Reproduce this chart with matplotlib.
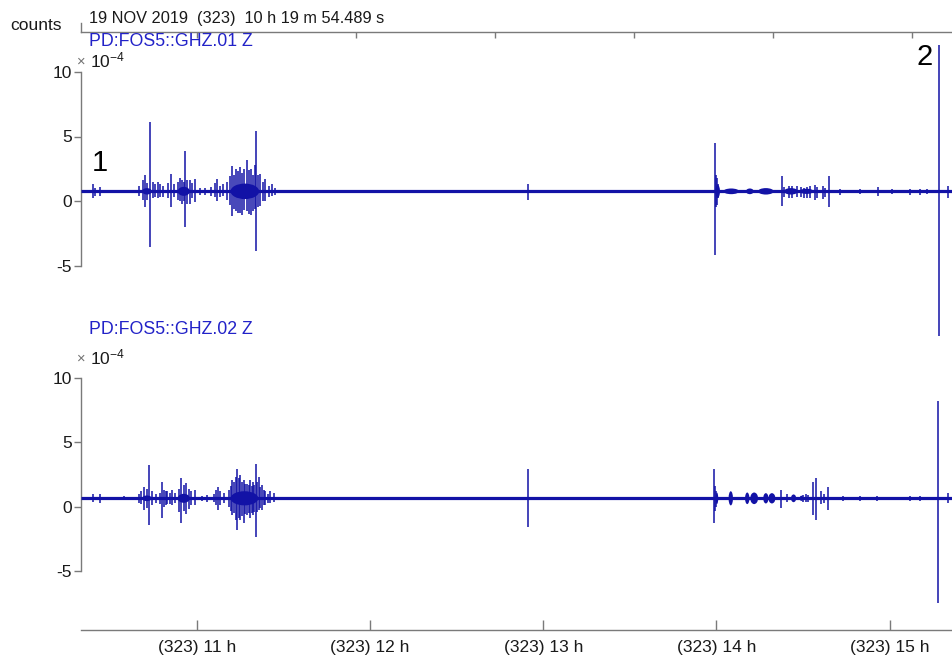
import matplotlib
matplotlib.use("Agg")
import matplotlib.pyplot as plt
from matplotlib.patches import Ellipse

plt.rcParams['font.family'] = ['Liberation Sans', 'DejaVu Sans']
plt.rcParams['axes.unicode_minus'] = False
plt.rcParams['mathtext.fontset'] = 'custom'
plt.rcParams['mathtext.rm'] = 'Liberation Sans'
plt.rcParams['mathtext.it'] = 'Liberation Sans'

# ---- time axis (decimal hours, day 323) ----
START_LABEL = "19 NOV 2019  (323)  10 h 19 m 54.489 s"
T_START = 10 + 19 / 60 + 54.489 / 3600
T_END = 15.3595
HOUR_TICKS = [11, 12, 13, 14, 15]
HOUR_LABELS = ["(323) 11 h", "(323) 12 h", "(323) 13 h", "(323) 14 h", "(323) 15 h"]
HEADER_TICKS = [11.003, 11.920, 12.722, 13.524, 14.327, 15.129]
Y_TICKS = [-5, 0, 5, 10]
Y_LABELS = ["-5", "0", "5", "10"]

# ---- channel 01 (amplitudes in units of 1e-4 counts) ----
CH01_NAME = "PD:FOS5::GHZ.01 Z"
CH01_BASE = 0.75
CH01_T = [10.403, 10.415, 10.443, 10.665, 10.690, 10.703, 10.715, 10.728, 10.745, 10.760,
          10.775, 10.790, 10.805, 10.835, 10.851, 10.870, 10.890, 10.905, 10.915, 10.925,
          10.934, 10.945, 10.962, 10.975, 10.991, 11.020, 11.050, 11.080, 11.105, 11.117,
          11.135, 11.153, 11.175, 11.190, 11.203, 11.215, 11.228, 11.240, 11.251, 11.262,
          11.275, 11.290, 11.300, 11.313, 11.325, 11.335, 11.343, 11.355, 11.366, 11.380,
          11.395, 11.415, 11.434, 11.450,
          12.913,
          13.992, 13.997, 14.002, 14.010, 14.377, 14.390, 14.420, 14.434, 14.463, 14.490,
          14.505, 14.525, 14.540, 14.569, 14.582, 14.613, 14.627, 14.648, 14.713, 14.829,
          14.934, 15.011, 15.117, 15.175, 15.213, 15.283, 15.338]
CH01_HI = [1.3, 1.0, 1.1, 1.2, 1.6, 2.0, 1.4, 6.1, 1.5, 1.3,
           1.5, 1.3, 1.2, 1.4, 2.1, 1.3, 1.5, 1.8, 1.6, 1.5,
           3.9, 1.6, 1.65, 1.4, 1.7, 1.0, 1.0, 1.1, 1.4, 1.7,
           1.2, 1.3, 1.5, 1.9, 2.7, 2.0, 2.5, 2.3, 2.6, 2.2,
           2.5, 3.2, 2.4, 2.5, 2.0, 2.8, 5.4, 2.0, 2.1, 1.5,
           1.7, 1.2, 1.3, 1.0,
           1.3,
           4.5, 2.0, 1.8, 1.3, 1.9, 1.1, 1.2, 1.15, 1.2, 1.1,
           1.0, 1.1, 1.15, 1.25, 1.1, 1.2, 1.0, 1.95, 0.95, 0.9,
           1.05, 0.9, 0.95, 0.95, 0.9, 12.1, 1.2]
CH01_LO = [0.2, 0.4, 0.4, 0.4, 0.1, -0.5, 0.1, -3.6, 0.2, 0.3,
           0.2, 0.3, 0.3, 0.2, -0.5, 0.3, 0.1, 0.0, -0.2, 0.0,
           -2.0, -0.2, -0.2, 0.2, -0.1, 0.5, 0.5, 0.4, 0.3, 0.0,
           0.3, 0.4, 0.1, -0.3, -1.2, -0.6, -0.8, -0.9, -0.9, -1.1,
           -0.7, -0.8, -1.0, -1.1, -0.8, -0.6, -3.9, -0.5, -0.4, 0.0,
           0.0, 0.3, 0.4, 0.5,
           0.1,
           -4.15, -0.5, -0.3, 0.2, -0.4, 0.3, 0.2, 0.25, 0.3, 0.3,
           0.25, 0.2, 0.2, 0.1, 0.2, 0.15, 0.3, -0.45, 0.5, 0.55,
           0.35, 0.55, 0.5, 0.5, 0.55, -10.5, 0.2]
# dense wave packets: start, end, half-amplitude about the baseline
CH01_BLOB_T0 = [10.685, 10.890, 11.195, 13.994, 14.040, 14.170, 14.240, 14.390, 14.480]
CH01_BLOB_T1 = [10.740, 10.960, 11.360, 14.020, 14.130, 14.215, 14.330, 14.470, 14.560]
CH01_BLOB_AMP = [0.25, 0.35, 0.6, 0.5, 0.22, 0.22, 0.25, 0.25, 0.2]

# ---- channel 02 ----
CH02_NAME = "PD:FOS5::GHZ.02 Z"
CH02_BASE = 0.65
CH02_T = [10.401, 10.439, 10.578, 10.664, 10.680, 10.693, 10.713, 10.726, 10.741, 10.766,
          10.785, 10.799, 10.812, 10.825, 10.831, 10.845, 10.857, 10.875, 10.895, 10.911,
          10.924, 10.939, 10.953, 10.965, 10.991, 11.030, 11.059, 11.097, 11.110, 11.120,
          11.136, 11.160, 11.184, 11.195, 11.203, 11.215, 11.225, 11.235, 11.243, 11.251,
          11.260, 11.270, 11.280, 11.290, 11.300, 11.309, 11.317, 11.324, 11.333, 11.342,
          11.350, 11.357, 11.366, 11.376, 11.386, 11.395, 11.410, 11.424, 11.443,
          12.913,
          13.986, 13.993, 13.998, 14.371, 14.406, 14.501, 14.515, 14.530, 14.556, 14.573,
          14.602, 14.621, 14.642, 14.732, 14.829, 14.929, 15.117, 15.175, 15.280, 15.335]
CH02_HI = [0.95, 1.0, 0.8, 1.0, 1.2, 1.55, 1.4, 3.2, 1.2, 1.0,
           1.1, 1.9, 1.3, 1.2, 1.2, 1.1, 1.3, 1.1, 1.35, 2.2,
           1.7, 1.85, 1.4, 1.2, 1.3, 0.85, 0.9, 1.0, 1.3, 1.55,
           1.2, 1.1, 1.3, 1.6, 2.1, 1.9, 2.3, 2.9, 2.2, 2.45,
           1.9, 2.1, 1.8, 1.8, 1.7, 2.05, 1.6, 1.95, 1.7, 3.35,
           1.9, 2.3, 1.5, 1.7, 1.3, 1.2, 1.0, 1.2, 1.05,
           2.9,
           2.9, 1.6, 1.2, 1.3, 0.95, 0.9, 0.95, 0.9, 1.95, 2.2,
           1.2, 1.0, 1.55, 0.8, 0.8, 0.85, 0.8, 0.8, 8.25, 1.1]
CH02_LO = [0.4, 0.3, 0.5, 0.3, 0.2, -0.25, -0.1, -1.4, 0.1, 0.3,
           0.2, -0.9, 0.0, 0.1, 0.2, 0.2, 0.1, 0.3, -0.4, -1.25,
           -0.3, -0.6, -0.2, 0.1, 0.1, 0.45, 0.4, 0.35, 0.1, -0.25,
           0.1, 0.3, 0.0, -0.3, -0.65, -0.5, -1.0, -1.8, -0.9, -1.05,
           -0.7, -1.25, -0.6, -0.65, -0.5, -0.9, -0.5, -0.65, -0.4, -2.35,
           -0.4, -0.25, -0.1, -0.25, 0.1, 0.15, 0.3, 0.25, 0.35,
           -1.55,
           -1.3, -0.3, 0.0, -0.1, 0.35, 0.35, 0.35, 0.4, -0.65, -1.0,
           0.2, 0.3, -0.25, 0.45, 0.45, 0.45, 0.45, 0.45, -7.5, 0.3]
CH02_BLOB_T0 = [10.685, 10.890, 11.195, 13.995, 14.070, 14.165, 14.195, 14.270, 14.300, 14.430, 14.480]
CH02_BLOB_T1 = [10.740, 10.960, 11.355, 14.010, 14.095, 14.190, 14.240, 14.300, 14.340, 14.460, 14.500]
CH02_BLOB_AMP = [0.22, 0.35, 0.55, 0.45, 0.55, 0.45, 0.45, 0.4, 0.4, 0.3, 0.2]

TRACE = '#1212a6'
LABEL_BLUE = '#2222c8'
AXIS_GREY = '#7a7a7a'
TEXT = '#1a1a1a'
FS = 12.5

W, H = 952, 657
fig = plt.figure(figsize=(W / 100, H / 100), dpi=100)
fig.patch.set_facecolor('white')


def fx(px):
    return px / W


def fy(px):
    return 1 - px / H


LEFT, RIGHT = 81, 952


def trace_axes(top_px, bot_px):
    ax = fig.add_axes([fx(LEFT), fy(bot_px), fx(RIGHT - LEFT), (bot_px - top_px) / H])
    ax.set_xlim(T_START, T_END)
    ax.set_ylim(-5, 10)
    for s in ('top', 'right'):
        ax.spines[s].set_visible(False)
    ax.spines['left'].set_color(AXIS_GREY)
    ax.spines['left'].set_linewidth(1.0)
    ax.set_yticks(Y_TICKS)
    ax.set_yticklabels(Y_LABELS)
    ax.tick_params(axis='y', direction='out', length=5, width=1.0, color=AXIS_GREY,
                   labelsize=FS, labelcolor=TEXT, pad=1.5)
    ax.patch.set_visible(False)
    return ax


def draw_trace(ax, base, t, hi, lo, b0, b1, bamp):
    ax.hlines(base, T_START, T_END, color=TRACE, lw=2.3, zorder=3)
    for a, b, amp in zip(b0, b1, bamp):
        ax.add_patch(Ellipse(((a + b) / 2, base), b - a, 2 * amp, color=TRACE, lw=0, zorder=3))
    lc = ax.vlines(t, lo, hi, color=TRACE, lw=1.1, zorder=4)
    lc.set_clip_on(False)


# channel 01
ax1 = trace_axes(72, 265.5)
ax1.spines['bottom'].set_visible(False)
ax1.set_xticks([])
draw_trace(ax1, CH01_BASE, CH01_T, CH01_HI, CH01_LO, CH01_BLOB_T0, CH01_BLOB_T1, CH01_BLOB_AMP)

# channel 02 with the shared time axis below it
ax2 = trace_axes(378, 571)
ax2.spines['bottom'].set_position(('outward', 59 * 0.72))
ax2.spines['bottom'].set_color(AXIS_GREY)
ax2.spines['bottom'].set_linewidth(1.0)
ax2.set_xticks(HOUR_TICKS)
ax2.set_xticklabels(HOUR_LABELS)
ax2.tick_params(axis='x', direction='in', length=7, width=1.0, color=AXIS_GREY,
                labelsize=FS, labelcolor=TEXT, pad=7)
draw_trace(ax2, CH02_BASE, CH02_T, CH02_HI, CH02_LO, CH02_BLOB_T0, CH02_BLOB_T1, CH02_BLOB_AMP)

# header time line
axh = fig.add_axes([fx(LEFT), fy(32), fx(RIGHT - LEFT), 9 / H])
axh.set_xlim(T_START, T_END)
axh.patch.set_visible(False)
for s in ('top', 'right'):
    axh.spines[s].set_visible(False)
for s in ('left', 'bottom'):
    axh.spines[s].set_color(AXIS_GREY)
    axh.spines[s].set_linewidth(1.0)
axh.set_yticks([])
axh.set_xticks(HEADER_TICKS)
axh.set_xticklabels([])
axh.tick_params(axis='x', direction='out', length=4, width=1.0, color=AXIS_GREY)

fig.text(fx(10), fy(25), "counts", fontsize=FS, color=TEXT, va='center', ha='left')
fig.text(fx(89), fy(19), START_LABEL, fontsize=11.8, color=TEXT, va='center', ha='left')

for name, ypx, mag_y in ((CH01_NAME, 41, 60), (CH02_NAME, 329, 357)):
    fig.text(fx(89), fy(ypx), name, fontsize=12.8, color=LABEL_BLUE, va='center', ha='left')
    fig.text(fx(77), fy(mag_y + 2), "\u00d7", fontsize=10.5, color='#707070', va='center', ha='left')
    fig.text(fx(90), fy(mag_y), r"$10^{-4}$", fontsize=FS, color=TEXT, va='center', ha='left')

fig.text(fx(92), fy(163), "1", fontsize=21, color='black', va='center', ha='left')
fig.text(fx(917), fy(57), "2", fontsize=21, color='black', va='center', ha='left')

fig.savefig("out.png", dpi=100, facecolor='white')
